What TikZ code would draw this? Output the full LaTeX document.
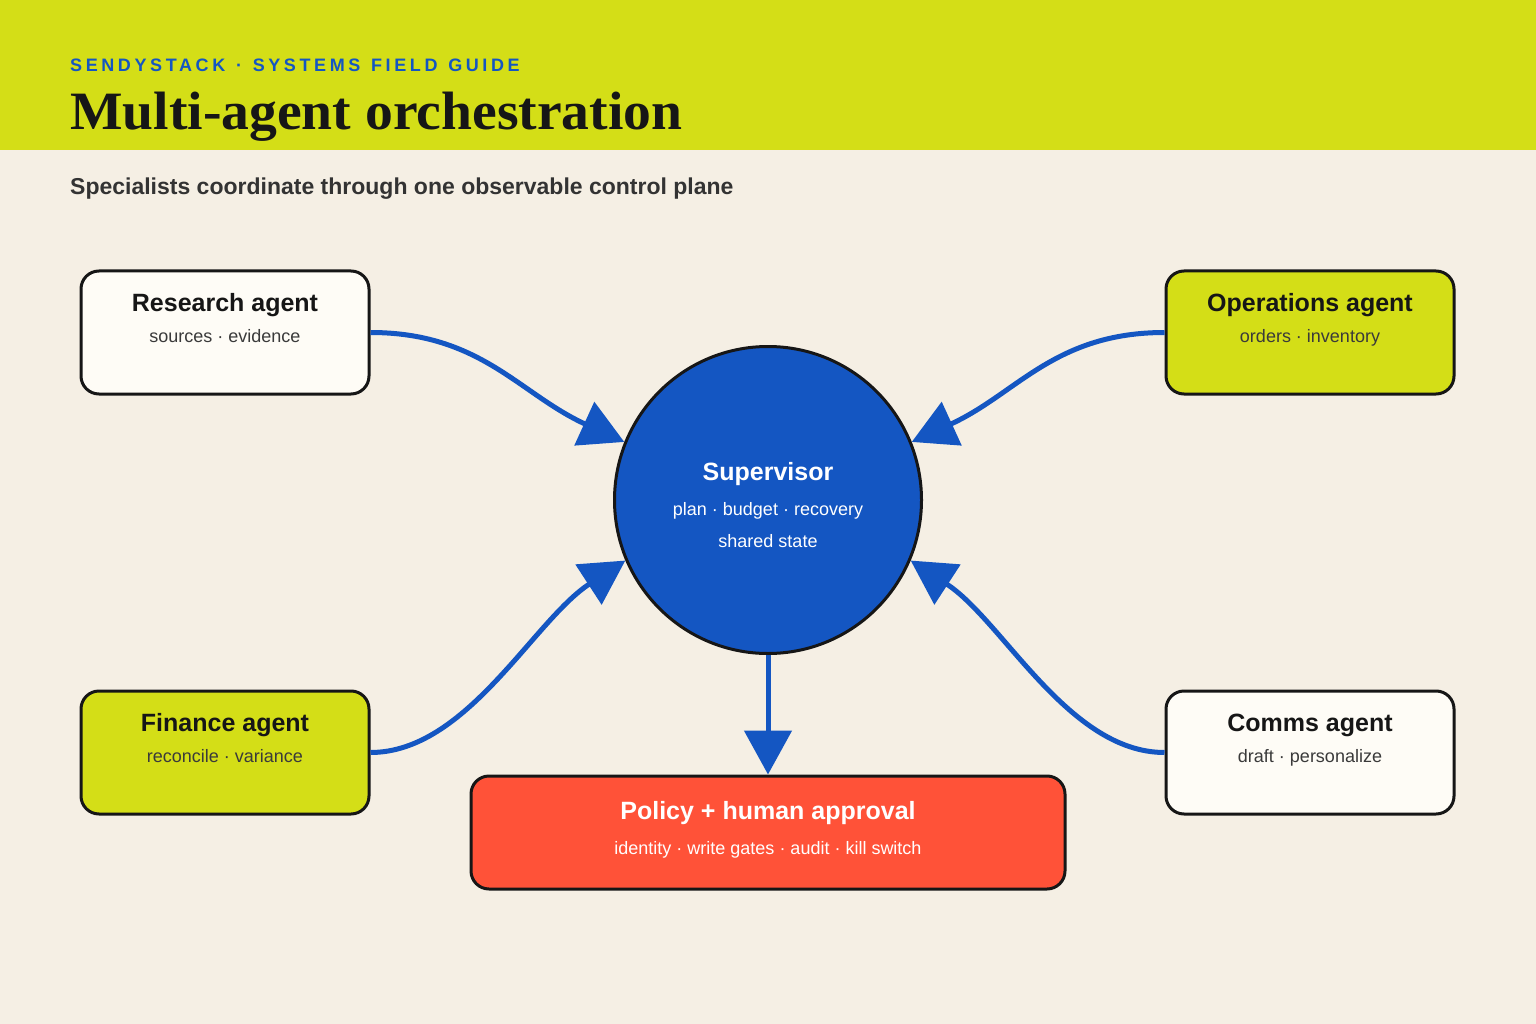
\documentclass[tikz,border=0pt]{standalone}
\usepackage{fontspec}
\setmainfont{Liberation Sans}
\newfontfamily\headserif{Liberation Serif}
\newfontfamily\kickerfont[LetterSpace=20,WordSpace=1.25]{Liberation Sans}
\usetikzlibrary{arrows.meta,calc,positioning}
\definecolor{paper}{HTML}{F5EFE4}
\definecolor{lime}{HTML}{D4DE17}
\definecolor{mainblue}{HTML}{1456C2}
\definecolor{mainred}{HTML}{FF5238}
\definecolor{ink}{HTML}{161616}
\definecolor{softink}{HTML}{3A3A3A}
\definecolor{slate}{HTML}{333333}
\definecolor{card}{HTML}{FEFCF6}

\begin{document}
\begin{tikzpicture}[x=1pt,y=-1pt,
  agent/.style={draw=ink,line width=3pt,rounded corners=18pt,minimum width=288pt,minimum height=123pt,inner sep=0pt},
  head/.style={anchor=base,font=\fontsize{25}{30}\selectfont\bfseries,text=ink},
  sub/.style={anchor=base,font=\fontsize{18}{22}\selectfont,text=softink},
  flow/.style={mainblue,line width=5pt,-{Triangle[length=44pt,width=47pt]}}]
  \useasboundingbox (0,0) rectangle (1536,1024);
  \fill[paper] (0,0) rectangle (1536,1024);
  \fill[lime] (0,0) rectangle (1536,150);
  \node[anchor=base west,inner sep=0pt,text=mainblue,font=\kickerfont\bfseries\fontsize{18}{22}\selectfont] (kicker) at (70,72) {SENDYSTACK · SYSTEMS FIELD GUIDE};
  \node[anchor=base west,inner sep=0pt,text=ink,font=\headserif\bfseries\fontsize{54}{60}\selectfont] (title) at (70,129.5) {\scalebox{1.03}[1]{Multi-agent orchestration}};
  \node[anchor=base west,inner sep=0pt,text=slate,font=\bfseries\fontsize{23}{27}\selectfont] (subtitle) at (70,195) {Specialists coordinate through one observable control plane};

  \node[agent,fill=card] (research) at (225,332.5) {};
  \node[agent,fill=lime] (ops) at (1310,332.5) {};
  \node[agent,fill=lime] (finance) at (225,752.5) {};
  \node[agent,fill=card] (comms) at (1310,752.5) {};
  \node[agent,fill=mainred,minimum width=594pt,minimum height=113pt] (policy) at (768,832.5) {};
  \node[circle,draw=ink,line width=3pt,fill=mainblue,minimum size=307pt,inner sep=0pt] (sup) at (768,500) {};

  \node[head] (researchH) at ($(research.north)+(0,42)$) {Research agent};
  \node[sub] (researchS) at ($(research.north)+(0,73)$) {sources · evidence};
  \node[head] (opsH) at ($(ops.north)+(0,42)$) {Operations agent};
  \node[sub] (opsS) at ($(ops.north)+(0,73)$) {orders · inventory};
  \node[head] (financeH) at ($(finance.north)+(0,42)$) {Finance agent};
  \node[sub] (financeS) at ($(finance.north)+(0,73)$) {reconcile · variance};
  \node[head] (commsH) at ($(comms.north)+(0,42)$) {Comms agent};
  \node[sub] (commsS) at ($(comms.north)+(0,73)$) {draft · personalize};
  \node[head,text=white] (supH) at ($(sup.center)+(0,-20)$) {Supervisor};
  \node[sub,text=white] (supS) at ($(sup.center)+(0,15)$) {plan · budget · recovery};
  \node[sub,text=white] (supT) at ($(sup.center)+(0,47)$) {shared state};
  \node[head,text=white] (policyH) at ($(policy.north)+(0,45)$) {Policy + human approval};
  \node[sub,text=white] (policyS) at ($(policy.north)+(0,80)$) {identity · write gates · audit · kill switch};

  \draw[flow] (research.east) .. controls +(110,0) and +(-105,-48) .. (sup.158);
  \draw[flow] (ops.west) .. controls +(-110,0) and +(105,-48) .. (sup.22);
  \draw[flow] (finance.east) .. controls +(96,0) and +(-92,60) .. (sup.203);
  \draw[flow] (comms.west) .. controls +(-96,0) and +(92,60) .. (sup.-23);
  \draw[flow] (sup.south) -- (policy.north);
\end{tikzpicture}
\end{document}
